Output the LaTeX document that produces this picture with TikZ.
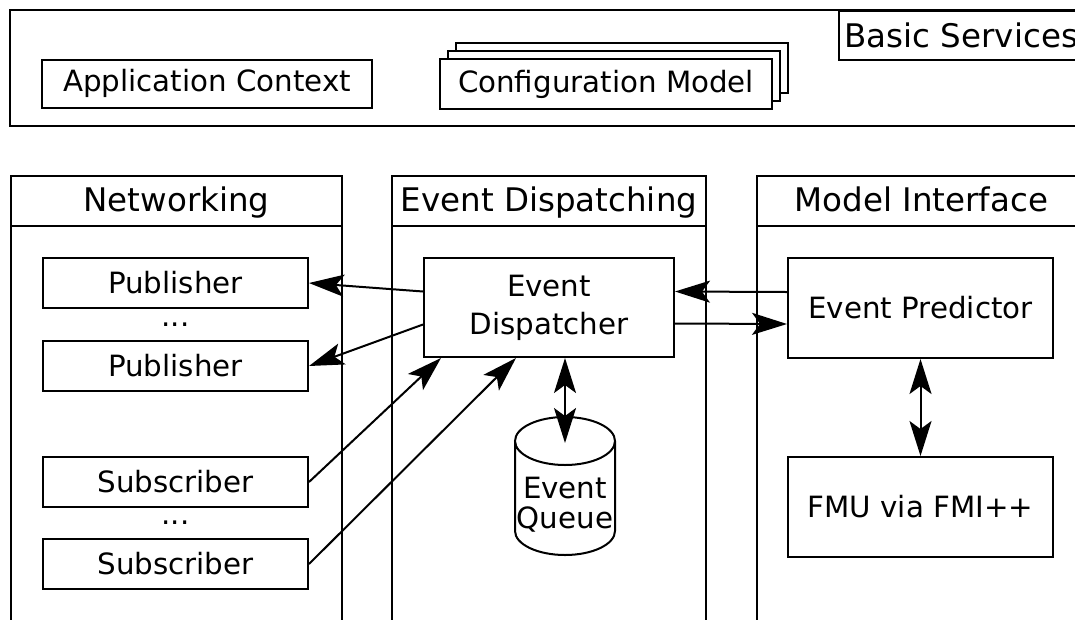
\documentclass[tikz,border=0pt]{standalone}
\usepackage{fontspec}
\setmainfont{DejaVu Sans}
\usetikzlibrary{arrows.meta,calc}
\begin{document}
\begin{tikzpicture}[x=1pt, y=-1pt, line width=2pt,
  every node/.style={inner sep=0pt},
  box/.style={draw, fill=white, font=\fontsize{29.3}{38}\selectfont, align=center},
  title/.style={font=\fontsize{32.5}{39}\selectfont},
  column/.style={draw, anchor=north west, minimum height=480pt},
  header/.style={draw, title, anchor=north west, minimum height=50pt, text height=27pt, text depth=7pt},
  tip/.style={-{Stealth[length=35pt,width=22pt,inset=8pt]}},
  bitip/.style={{Stealth[length=35pt,width=22pt,inset=8pt]}-{Stealth[length=35pt,width=22pt,inset=8pt]}}]
\useasboundingbox (0,0) rectangle (1075,619);
\clip (0,0) rectangle (1075,619);
\node[draw, minimum width=1075pt, minimum height=116pt] (basic) at (547.5,68) {};
\node[box, title, anchor=north west, minimum width=250pt, minimum height=49pt, text width=240pt, align=left] (basicT) at (838,10) {Basic Services};
\node[box, minimum width=330pt, minimum height=48pt] (appctx) at (207,83.5) {Application Context};
\node[box, minimum width=332pt, minimum height=50pt] (conf3) at (622,68) {};
\node[box, minimum width=332pt, minimum height=50pt] (conf2) at (614,76) {};
\node[box, minimum width=332pt, minimum height=50pt] (conf) at (606,84) {Configuration Model};
\node[column, minimum width=331pt] (netcol) at (10,175) {};
\node[header, minimum width=331pt] (netT) at (10,175) {Networking};
\node[column, minimum width=314pt] (evcol) at (391,175) {};
\node[header, minimum width=314pt] (evT) at (391,175) {Event Dispatching};
\node[column, minimum width=329pt] (modcol) at (756,175) {};
\node[header, minimum width=329pt] (modT) at (756,175) {Model Interface};
\node[box, minimum width=265pt, minimum height=50pt] (pub1) at (175.5,283) {Publisher};
\node[font=\fontsize{29.3}{38}\selectfont] (dots1) at (175.5,325) {...};
\node[box, minimum width=265pt, minimum height=50pt] (pub2) at (175.5,366) {Publisher};
\node[box, minimum width=265pt, minimum height=50pt] (sub1) at (175.5,482) {Subscriber};
\node[font=\fontsize{29.3}{38}\selectfont] (dots2) at (175.5,523) {...};
\node[box, minimum width=265pt, minimum height=50pt] (sub2) at (175.5,564) {Subscriber};
\node[box, minimum width=250pt, minimum height=99pt] (disp) at (549,307.5) {Event\\Dispatcher};
\draw[fill=white] (515,441) -- (515,531) arc[start angle=180, end angle=0, x radius=50, y radius=24]
  -- (615,441) arc[start angle=0, end angle=-180, x radius=50, y radius=24]
  arc[start angle=180, end angle=0, x radius=50, y radius=24];
\node[font=\fontsize{29.3}{30}\selectfont, align=center] (queue) at (565,505) {Event\\Queue};
\coordinate (qtop) at (565,443);
\node[box, minimum width=265pt, minimum height=100pt] (pred) at (920.5,308) {Event Predictor};
\node[box, minimum width=265pt, minimum height=100pt] (fmu) at (920.5,507) {FMU via FMI++};
\draw[tip] ($(disp.west)+(0,-16)$) -- (pub1.east);
\draw[tip] ($(disp.west)+(0,17)$) -- (pub2.east);
\draw[tip] (sub1.east) -- ($(disp.south west)+(18,0)$);
\draw[tip] (sub2.east) -- ($(disp.south west)+(93,0)$);
\draw[tip] ($(pred.west)+(0,-16)$) -- ($(disp.east)+(0,-16)$);
\draw[tip] ($(disp.east)+(0,16)$) -- ($(pred.west)+(0,16)$);
\draw[bitip] (qtop |- disp.south) -- (qtop);
\draw[bitip] (pred.south) -- (fmu.north);
\end{tikzpicture}
\end{document}
